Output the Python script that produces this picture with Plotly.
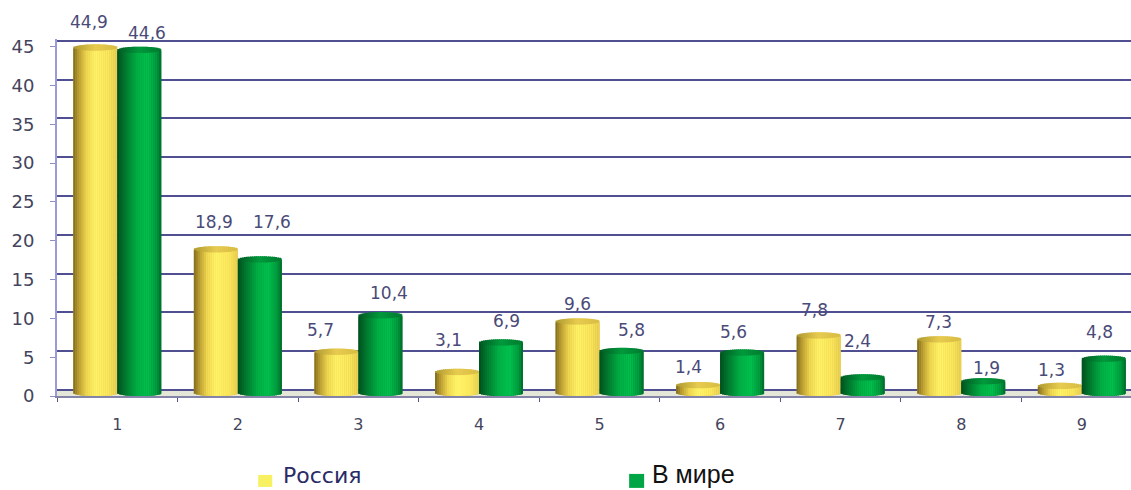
import math
import plotly.graph_objects as go

categories = ["1", "2", "3", "4", "5", "6", "7", "8", "9"]
russia = [44.9, 18.9, 5.7, 3.1, 9.6, 1.4, 7.8, 7.3, 1.3]
world = [44.6, 17.6, 10.4, 6.9, 5.8, 5.6, 2.4, 1.9, 4.8]
russia_labels = ["44,9", "18,9", "5,7", "3,1", "9,6", "1,4", "7,8", "7,3", "1,3"]
world_labels = ["44,6", "17,6", "10,4", "6,9", "5,8", "5,6", "2,4", "1,9", "4,8"]
y_ticks = [0, 5, 10, 15, 20, 25, 30, 35, 40, 45]

# label nudges in px (style only)
russia_dx = [-6, -2, -16, -8, 0, -10, -4, -1, -8]
russia_dy = [26, 27, 22, 32, 18, 18, 25, 17, 16]
world_dx = [8, 12, 9, 6, 10, -9, -5, 3, -4]
world_dy = [17, 37, 22, 21, 21, 21, 36, 13, 27]

W, H = 1131, 490
L, R, T, B = 56.7, 0, 38.6, 94
PW, PH = W - L - R, H - T - B
CAT_PX = 120.6
BAR_W = 44 / CAT_PX
UNIT = PH / 46
WALL = 6 / UNIT
CAP = 3.2 / UNIT
N = 22


def px(x):
    return (x - L) / PW


def py(y):
    return (H - B - y) / PH


def hex2rgb(c):
    return [int(c[i:i + 2], 16) for i in (1, 3, 5)]


def ramp(stops, u):
    for (a, ca), (b, cb) in zip(stops, stops[1:]):
        if u <= b:
            t = (u - a) / (b - a)
            p, q = hex2rgb(ca), hex2rgb(cb)
            return "rgb(%d,%d,%d)" % tuple(p[i] + (q[i] - p[i]) * t for i in range(3))
    return stops[-1][1]


yellow = [(0, "#7d6a1e"), (.12, "#b89a30"), (.3, "#f0d850"), (.5, "#fff468"), (.8, "#fbe75c"), (1, "#e8cf50")]
green = [(0, "#004f1e"), (.15, "#00722c"), (.45, "#00b045"), (.7, "#00c04e"), (.9, "#009a3c"), (1, "#006a2a")]
yellow_cap = [(0, "#b09a30"), (.5, "#e8cc50"), (1, "#d8bc44")]
green_cap = [(0, "#005a24"), (.5, "#009a3c"), (1, "#007a30")]

fig = go.Figure()


def cylinder(values, start, stops, cap_stops, name):
    sw = BAR_W / N
    for i in range(N):
        u = (i + .5) / N
        arc = math.sqrt(max(0, 1 - (2 * u - 1) ** 2))
        off = start + i * sw
        w = sw * (1.6 if i < N - 1 else 1.0)
        base = [CAP * (1 - arc) for _ in values]
        # rounded top face
        top = [v + CAP * arc for v in values]
        fig.add_bar(x=categories, y=[t - b for t, b in zip(top, base)], base=base, width=w,
                    offset=off, marker=dict(color=ramp(cap_stops, u), line_width=0),
                    showlegend=False, hoverinfo="skip", name=name)
        # front face
        front = [max(v - CAP * arc, CAP * (1 - arc)) for v in values]
        fig.add_bar(x=categories, y=[t - b for t, b in zip(front, base)], base=base, width=w,
                    offset=off, marker=dict(color=ramp(stops, u), line_width=0),
                    showlegend=False, hoverinfo="skip", name=name)


cylinder(russia, -BAR_W, yellow, yellow_cap, "Россия")
cylinder(world, 0, green, green_cap, "В мире")

# carries the wall gridlines, which sit slightly above the axis values
fig.add_scatter(x=categories, y=[None] * len(categories), yaxis="y2", showlegend=False, hoverinfo="skip")

LABEL_FONT = dict(family="DejaVu Sans", size=17, color="#4a4a78")
annotations = []
for i, c in enumerate(categories):
    annotations.append(dict(x=i, y=russia[i], text=russia_labels[i], showarrow=False, font=LABEL_FONT,
                            xshift=-22 + russia_dx[i], yshift=russia_dy[i], yanchor="middle"))
    annotations.append(dict(x=i, y=world[i], text=world_labels[i], showarrow=False, font=LABEL_FONT,
                            xshift=22 + world_dx[i], yshift=world_dy[i], yanchor="middle"))

annotations.append(dict(xref="paper", yref="paper", x=px(281), y=py(476), text="Россия", showarrow=False,
                        xanchor="left", yanchor="middle",
                        font=dict(family="DejaVu Sans", size=22, color="#2a2a66")))
annotations.append(dict(xref="paper", yref="paper", x=px(650), y=py(474), text="В мире", showarrow=False,
                        xanchor="left", yanchor="middle",
                        font=dict(family="Liberation Sans", size=25, color="#111111")))

shapes = [
    dict(type="rect", xref="paper", yref="y", x0=0, x1=1, y0=0, y1=WALL, layer="below",
         fillcolor="#e4e6d8", line_width=0),
    dict(type="rect", xref="paper", yref="paper", x0=px(258), x1=px(272), y0=py(487), y1=py(475),
         fillcolor="#f7f060", line_width=0),
    dict(type="rect", xref="paper", yref="paper", x0=px(629), x1=px(644), y0=py(488), y1=py(474),
         fillcolor="#00a545", line_width=0),
]

fig.update_layout(
    width=W, height=H, margin=dict(l=L, r=R, t=T, b=B, pad=0, autoexpand=False),
    paper_bgcolor="white", plot_bgcolor="white", barmode="overlay", showlegend=False,
    annotations=annotations, shapes=shapes,
    xaxis=dict(type="category", categoryorder="array", categoryarray=categories,
               range=[-0.5, -0.5 + PW / CAT_PX], tickson="boundaries", ticks="outside", ticklen=4,
               tickcolor="#55557f", showgrid=False, showline=True, linecolor="#8484a8", linewidth=2,
               ticklabelstandoff=13, tickfont=dict(family="DejaVu Sans", size=16, color="#44445c")),
    yaxis=dict(range=[0, 46], tickvals=y_ticks, ticks="outside", ticklen=5, tickcolor="#8c8cc8",
               showgrid=False, zeroline=False, showline=True, linecolor="#9a9ad8", linewidth=2,
               ticklabelstandoff=12, tickfont=dict(family="DejaVu Sans", size=18, color="#44445c")),
    yaxis2=dict(overlaying="y", range=[-WALL, 46 - WALL], tickvals=y_ticks, showgrid=True,
                gridcolor="#4f4f92", gridwidth=2, showticklabels=False, ticks="", zeroline=False,
                showline=False),
)

fig.write_html("out.html", config={"displayModeBar": False},
               post_script="document.body.style.margin='0';document.body.style.overflow='hidden';")
